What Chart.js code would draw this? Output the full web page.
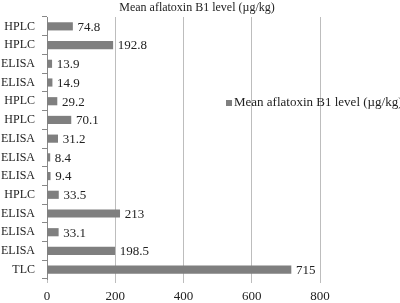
<!DOCTYPE html>
<html>
<head>
<meta charset="utf-8">
<script src="https://cdn.jsdelivr.net/npm/chart.js@4"></script>
<style>
html,body{margin:0;padding:0;background:#fff;}
#wrap{width:400px;height:303px;position:relative;}
</style>
</head>
<body>
<div id="wrap"><canvas id="c" width="400" height="303"></canvas></div>
<script>
const categories = ["HPLC","HPLC","ELISA","ELISA","HPLC","HPLC","ELISA","ELISA","ELISA","HPLC","ELISA","ELISA","ELISA","TLC"];
const values = [74.8,192.8,13.9,14.9,29.2,70.1,31.2,8.4,9.4,33.5,213,33.1,198.5,715];
const valueLabels = ["74.8","192.8","13.9","14.9","29.2","70.1","31.2","8.4","9.4","33.5","213","33.1","198.5","715"];
const xTicks = [0,200,400,600,800];
const seriesName = "Mean aflatoxin B1 level (\u00b5g/kg)";

const FONT = "'Liberation Serif', 'Times New Roman', serif";
const BAR = "#7f7f7f";

const labelPlugin = {
  id: 'valueLabels',
  afterDatasetsDraw(chart) {
    const ctx = chart.ctx;
    const meta = chart.getDatasetMeta(0);
    ctx.save();
    ctx.font = "13px " + FONT;
    ctx.fillStyle = "#222";
    ctx.textAlign = "left";
    ctx.textBaseline = "middle";
    meta.data.forEach((bar, i) => {
      ctx.fillText(valueLabels[i], bar.x + 5, bar.y + 1);
    });
    ctx.restore();
  }
};

const titleLegendPlugin = {
  id: 'titleLegend',
  afterDraw(chart) {
    const ctx = chart.ctx;
    ctx.save();
    // title
    ctx.font = "12px " + FONT;
    ctx.fillStyle = "#222";
    ctx.textAlign = "center";
    ctx.textBaseline = "middle";
    ctx.fillText(chart.data.datasets[0].label, 197, 8);
    // legend
    ctx.fillStyle = BAR;
    ctx.fillRect(226, 100, 6, 6);
    ctx.font = "13px " + FONT;
    ctx.fillStyle = "#222";
    ctx.textAlign = "left";
    ctx.fillText(chart.data.datasets[0].label, 234, 103);
    ctx.restore();
  }
};

new Chart(document.getElementById('c'), {
  type: 'bar',
  data: {
    labels: categories,
    datasets: [{
      label: seriesName,
      data: values,
      backgroundColor: BAR,
      borderWidth: 0,
      barThickness: 7.5
    }]
  },
  options: {
    indexAxis: 'y',
    responsive: false,
    animation: false,
    layout: { padding: { left: 0, right: 80, top: 17, bottom: 0 } },
    plugins: {
      legend: { display: false },
      tooltip: { enabled: false },
      title: { display: false }
    },
    scales: {
      x: {
        min: 0, max: 800,
        afterBuildTicks(scale) { scale.ticks = xTicks.map(v => ({ value: v })); },
        grid: { color: "#bdbdbd", lineWidth: 1, drawTicks: true, tickLength: 4 },
        border: { display: false },
        ticks: { color: "#222", font: { family: FONT, size: 13 }, padding: 6 },
        afterFit(scale) { scale.height = 24; }
      },
      y: {
        grid: { drawOnChartArea: false, drawTicks: true, tickLength: 5, color: "#888", offset: true },
        border: { display: true, color: "#888" },
        ticks: { color: "#222", font: { family: FONT, size: 12 }, padding: 7, autoSkip: false },
        afterFit(scale) { scale.width = 47; }
      }
    }
  },
  plugins: [labelPlugin, titleLegendPlugin]
});
</script>
</body>
</html>
